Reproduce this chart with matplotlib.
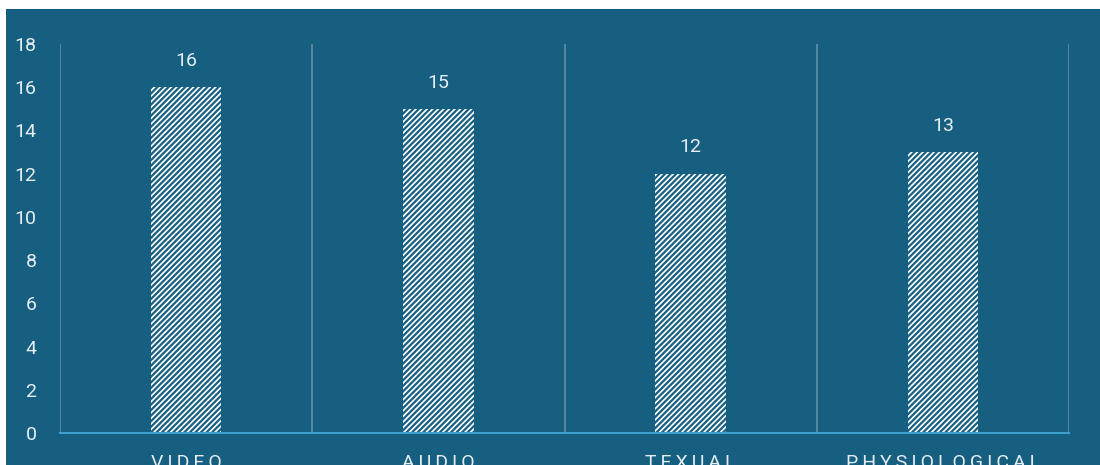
import numpy as np
import matplotlib
matplotlib.use("Agg")
import matplotlib.pyplot as plt
from matplotlib.patches import Rectangle

categories = ["VIDEO", "AUDIO", "TEXUAL", "PHYSIOLOGICAL"]
values = [16, 15, 12, 13]
yticks = [0, 2, 4, 6, 8, 10, 12, 14, 16, 18]

bg = "#165f80"
txt = "#e6eef3"
plt.rcParams["font.family"] = ["Roboto", "DejaVu Sans"]
plt.rcParams["hatch.color"] = bg
plt.rcParams["hatch.linewidth"] = 1.6

fig = plt.figure(figsize=(11, 4.65), dpi=100, facecolor="white")
fig.patches.append(Rectangle((6 / 1100, 0), 1, 1 - 9 / 465, transform=fig.transFigure,
                             facecolor=bg, edgecolor="none", zorder=-1))

ax = fig.add_axes([60 / 1100, 1 - 433 / 465, 1009 / 1100, (433 - 44) / 465])
ax.set_facecolor(bg)
x = np.arange(len(categories))
bars = ax.bar(x, values, width=0.28, color="white", edgecolor=bg, hatch="//////",
              linewidth=0, zorder=3)
for xi, v in zip(x, values):
    ax.text(xi, v + 0.8, str(v), ha="center", va="bottom", color=txt, fontsize=14)

ax.set_xlim(-0.5, len(categories) - 0.5)
ax.set_ylim(0, 18)
ax.set_yticks(yticks)
ax.set_xticks(x)
# letter-spaced category labels
ax.set_xticklabels(["\u2009".join(c) for c in categories])
for xb in np.arange(len(categories) + 1) - 0.5:
    ax.axvline(xb, color="#5f8fa8", lw=1.2, zorder=1)
ax.tick_params(axis="y", length=0, pad=17, labelcolor=txt, labelsize=14)
ax.tick_params(axis="x", length=0, pad=15, labelcolor=txt, labelsize=14)
for s in ["top", "right", "left"]:
    ax.spines[s].set_visible(False)
ax.spines["bottom"].set_color("#3f9fd0")
ax.spines["bottom"].set_linewidth(1.5)
ax.spines["bottom"].set_zorder(4)

fig.savefig("out.png", dpi=100, facecolor="white")
